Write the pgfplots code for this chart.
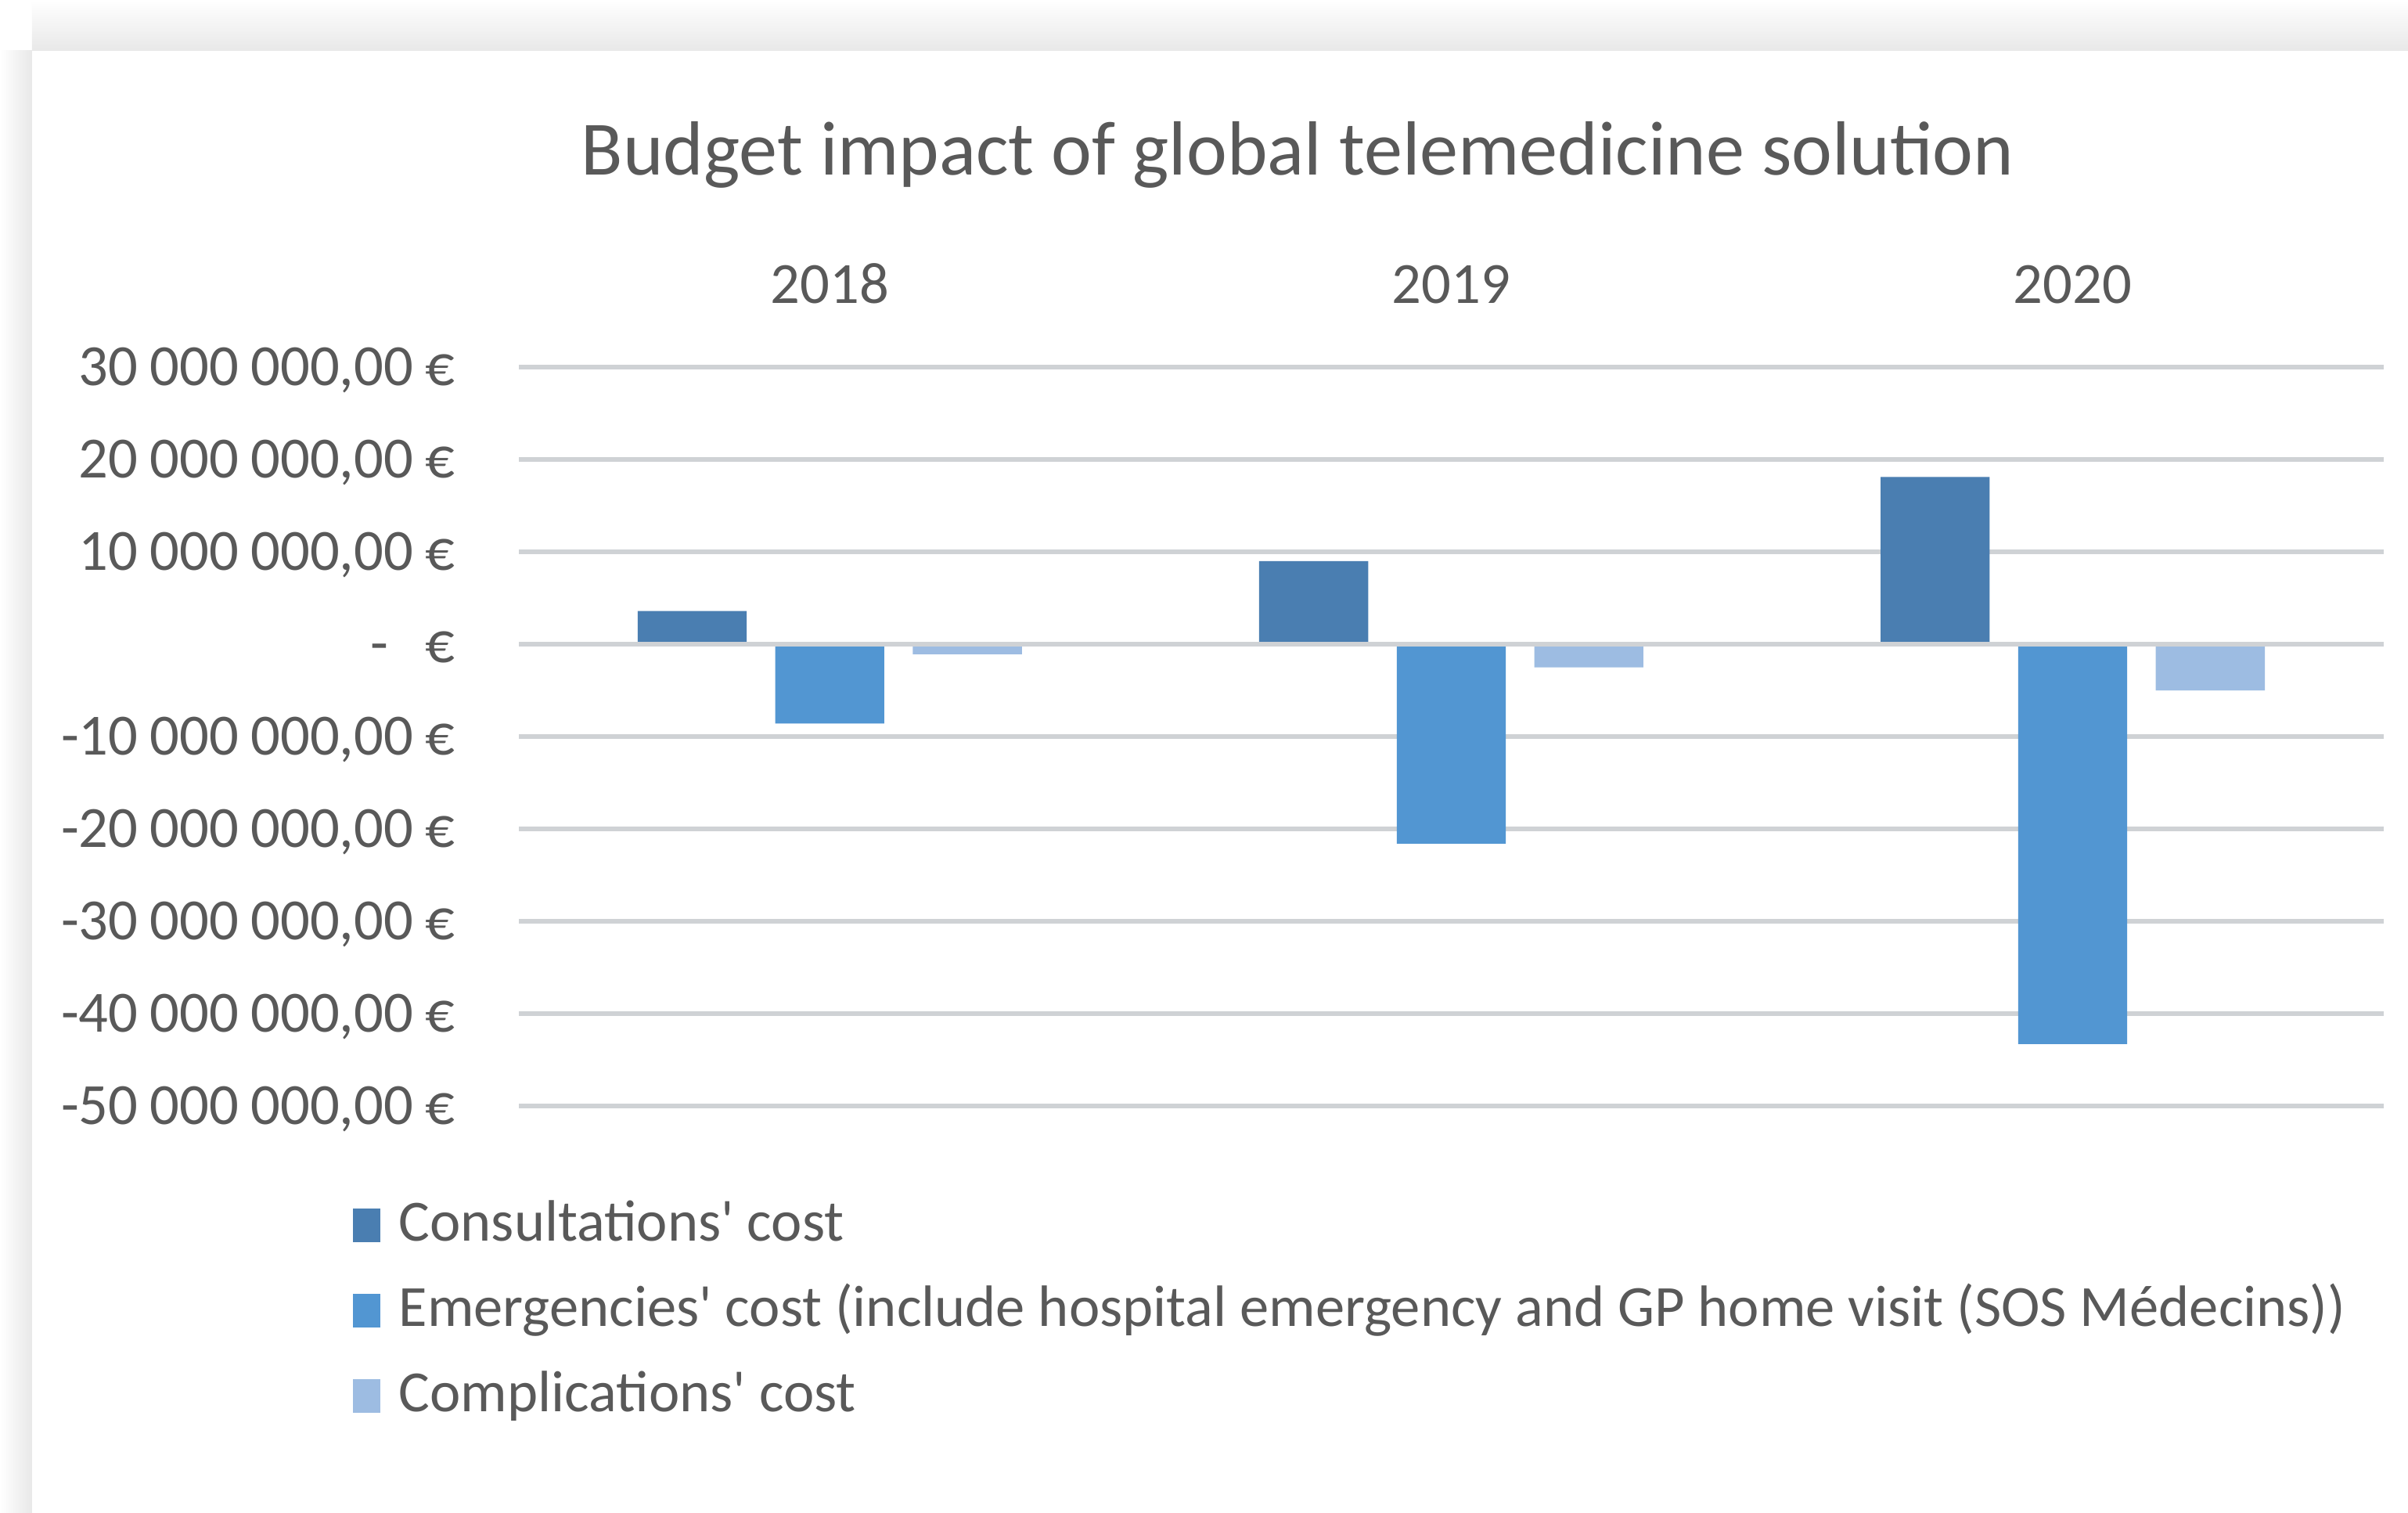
\documentclass[border=0pt]{standalone}
\usepackage{pgfplots}
\pgfplotsset{compat=1.18}
\usepackage{fontspec}
\setmainfont{Carlito}
\definecolor{txt}{HTML}{595959}
\definecolor{gridc}{HTML}{CFD2D5}
\definecolor{c1}{HTML}{4A7EB1}
\definecolor{c2}{HTML}{5296D2}
\definecolor{c3}{HTML}{9DBCE2}
\newcommand{\s}{\hspace{1.95pt}}
\begin{document}
\begin{tikzpicture}
\useasboundingbox (-84.5pt,-66.25pt) rectangle (307.5pt,180pt);
\fill[white] (-84.5pt,-66.25pt) rectangle (307.5pt,180pt);
\shade[top color=white, bottom color=black!9] (-79.3pt,180pt) rectangle (307.5pt,171.75pt);
\shade[left color=white, right color=black!9] (-84.5pt,-66.25pt) rectangle (-79.3pt,171.75pt);
\begin{axis}[
  at={(0pt,0pt)}, anchor=south west, scale only axis,
  width=303.5pt, height=120.25pt,
  xmin=-0.5, xmax=2.5, ymin=-50, ymax=30,
  ybar=4.65pt, bar width=17.75pt,
  xtick={0,1,2}, xticklabels={2018,2019,2020},
  xticklabel pos=right,
  ytick={-50,-40,-30,-20,-10,0,10,20,30},
  yticklabels={{-50\s000\s000,00\s€},{-40\s000\s000,00\s€},{-30\s000\s000,00\s€},{-20\s000\s000,00\s€},{-10\s000\s000,00\s€},{-\hspace{6pt}€},{10\s000\s000,00\s€},{20\s000\s000,00\s€},{30\s000\s000,00\s€}},
  axis line style={draw=none}, major tick length=0pt,
  ymajorgrids, grid style={gridc, line width=0.7pt},
  ticklabel style={font=\fontsize{9.5}{11}\selectfont, text=txt, inner sep=0pt},
  yticklabel style={anchor=base east, xshift=-10.25pt, yshift=-3.0pt},
  xticklabel style={anchor=base, yshift=10.4pt},
  clip=false,
  legend cell align=left,
  legend style={at={(-0.0997,-0.106)}, anchor=north west, draw=none, fill=none,
    font=\fontsize{9.5}{11}\selectfont, text=txt,
    nodes={inner sep=0pt, text height=7pt, text depth=2pt},
    row sep=4.9pt, column sep=3pt},
  legend image code/.code={\fill[#1] (0pt,-2.75pt) rectangle (4.5pt,2.75pt);},
]
\addplot[fill=c1, draw=none] coordinates {(0,3.6) (1,9.0) (2,18.1)};
\addplot[fill=c2, draw=none] coordinates {(0,-8.6) (1,-21.6) (2,-43.3)};
\addplot[fill=c3, draw=none] coordinates {(0,-1.1) (1,-2.5) (2,-5.0)};
\legend{Consultations\textquotesingle{} cost, Emergencies\textquotesingle{} cost (include hospital emergency and GP home visit (SOS Médecins)), Complications\textquotesingle{} cost}
\draw[gridc, line width=0.7pt] (axis cs:-0.5,0) -- (axis cs:2.5,0);
\end{axis}
\node[anchor=base, font=\fontsize{12.5}{15}\selectfont, text=txt] at (126.75pt,151.5pt) {Budget impact of global telemedicine solution};
\end{tikzpicture}
\end{document}
